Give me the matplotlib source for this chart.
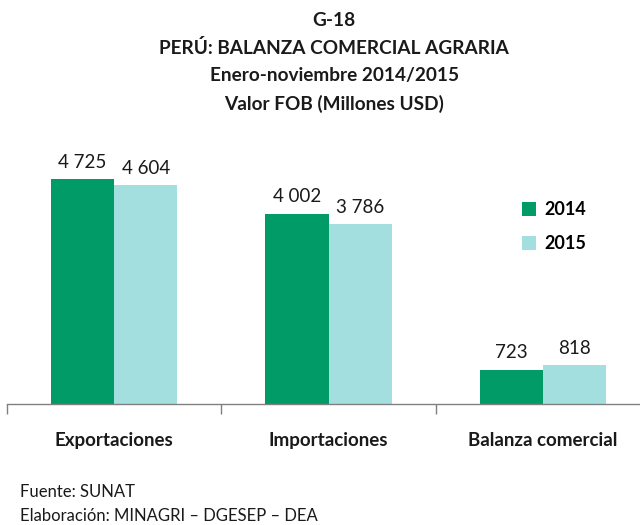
import matplotlib
matplotlib.use("Agg")
import matplotlib.pyplot as plt
import numpy as np

plt.rcParams['font.family'] = ['Lato', 'DejaVu Sans']

# Daten
kategorien = ["Exportaciones", "Importaciones", "Balanza comercial"]
werte_2014 = [4725, 4002, 723]
werte_2015 = [4604, 3786, 818]
jahre = ["2014", "2015"]
farben = ["#009B66", "#A4DFE0"]

fig = plt.figure(figsize=(6.4, 5.25), dpi=100)
ax = fig.add_axes([0.011, 0.2305, 1.005, 0.48])

x = np.arange(len(kategorien))
breite = 0.295
b1 = ax.bar(x - breite / 2, werte_2014, breite, color=farben[0], label=jahre[0])
b2 = ax.bar(x + breite / 2, werte_2015, breite, color=farben[1], label=jahre[1])

# Beschriftungen über den Balken
for bars in (b1, b2):
    for rect in bars:
        wert = rect.get_height()
        txt = f"{wert:,}".replace(",", " ")
        ax.annotate(txt, (rect.get_x() + rect.get_width() / 2, wert),
                    xytext=(0, 6), textcoords="offset points",
                    ha="center", va="bottom", fontsize=13.5, color="#1a1a1a")

ax.set_xlim(-0.5, 2.5)
ax.set_ylim(0, 5300)
ax.set_yticks([])
for s in ["top", "right", "left"]:
    ax.spines[s].set_visible(False)
ax.spines["bottom"].set_color("#808080")
ax.spines["bottom"].set_linewidth(1.0)

ax.set_xticks(x)
ax.set_xticklabels(kategorien, fontsize=13.5, fontweight="bold", color="#1a1a1a")
ax.tick_params(axis="x", which="major", length=0, pad=20)
ax.set_xticks([-0.5, 0.5, 1.5, 2.5], minor=True)
ax.tick_params(axis="x", which="minor", length=7, width=1.0, color="#808080", direction="out")

leg = ax.legend(loc="upper left", bbox_to_anchor=(0.775, 0.87), frameon=False,
                prop={"weight": "bold", "size": 13}, handlelength=0.8,
                handleheight=0.8, labelspacing=0.95, handletextpad=0.45)

# Titel
titel = ["G-18", "PERÚ: BALANZA COMERCIAL AGRARIA",
         "Enero-noviembre 2014/2015", "Valor FOB (Millones USD)"]
for i, zeile in enumerate(titel):
    fig.text(0.522, 1 - (20 + i * 28) / 525, zeile, ha="center", va="center",
             fontsize=13.7, fontweight="bold", color="#1a1a1a")

# Fußnoten
fig.text(20 / 640, 1 - 492 / 525, "Fuente: SUNAT", ha="left", va="center",
         fontsize=12, color="#1a1a1a")
fig.text(20 / 640, 1 - 516 / 525, "Elaboración: MINAGRI – DGESEP – DEA",
         ha="left", va="center", fontsize=12, color="#1a1a1a")

fig.savefig("out.png", dpi=100)
